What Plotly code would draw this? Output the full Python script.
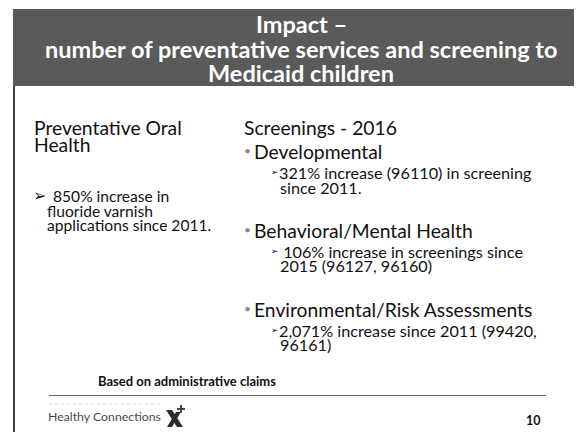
import plotly.graph_objects as go

W, H = 582, 432
OFF = 8  # default page margin of the html body

title_lines = ["Impact –", "number of preventative services and screening to", "Medicaid children"]
left_head = ["Preventative Oral", "Health"]
left_point = ["850% increase in", "fluoride varnish", "applications since 2011."]
right_head = "Screenings - 2016"
categories = ["Developmental", "Behavioral/Mental Health", "Environmental/Risk Assessments"]
details = [
    ["321% increase (96110) in screening", "since 2011."],
    [" 106% increase in screenings since", "2015 (96127, 96160)"],
    ["2,071% increase since 2011 (99420,", "96161)"],
]
footnote = "Based on administrative claims"
brand = "Healthy Connections"
page_no = "10"

FONT = "Lato, 'Open Sans', 'DejaVu Sans', sans-serif"
SYM = "'DejaVu Sans', sans-serif"
TXT = "#111111"

fig = go.Figure()
fig.add_trace(go.Scatter(x=[OFF, W], y=[OFF, H], mode="markers", marker=dict(opacity=0),
                         hoverinfo="skip", showlegend=False))

shapes = []
shapes.append(dict(type="rect", x0=13, x1=582, y0=9, y1=86, fillcolor="#5a5a5a", line=dict(width=0), layer="below"))
shapes.append(dict(type="line", x0=14, x1=14, y0=86, y1=432, line=dict(color="#3c3c3c", width=2)))
shapes.append(dict(type="line", x0=575, x1=575, y0=160, y1=376, line=dict(color="#dddddd", width=1)))
shapes.append(dict(type="line", x0=581, x1=581, y0=376, y1=432, line=dict(color="#555555", width=1.5)))
shapes.append(dict(type="line", x0=49, x1=546, y0=395.5, y1=395.5, line=dict(color="#6a6a6a", width=1.2)))
shapes.append(dict(type="line", x0=49, x1=162, y0=404, y1=404, line=dict(color="#d8d8d8", width=1, dash="dot")))

ann = []
def t(x, y, s, size, color=TXT, bold=False, anchor="left", family=FONT):
    ann.append(dict(x=x, y=y, xref="x", yref="y", text=("<b>%s</b>" % s) if bold else s,
                    showarrow=False, xanchor=anchor, yanchor="middle", borderpad=0, borderwidth=0,
                    font=dict(family=family, size=size, color=color)))

for i, line in enumerate(title_lines):
    t(301, 24 + i * 24.5, line, 23.5, color="white", bold=True, anchor="center")

HEAD = 19.3
SUB = 16.2
t(34, 127, left_head[0], HEAD)
t(34, 144, left_head[1], HEAD)
t(33, 195, "➢", 16, family=SYM)
t(53, 196, left_point[0], 15.6)
t(47, 210.5, left_point[1], 15.6)
t(47, 225, left_point[2], 15.6)

t(244, 127, right_head, HEAD)
cat_y = [151.5, 230, 309]
for cy, cat, det in zip(cat_y, categories, details):
    t(243.5, cy - 1, "•", 12, color="#8a8a8a")
    t(254, cy, cat, HEAD)
    t(270.5, cy + 20.5, "➢", 8.5, family=SYM)
    t(278.5, cy + 21, det[0], SUB)
    t(279.5, cy + 35.5, det[1], SUB)

t(98, 380.5, footnote, 13, bold=True)
t(48, 416, brand, 12.3, color="#4a4a4a")
t(526, 420, page_no, 12.5, bold=True)

# logo mark
shapes.append(dict(type="path", path="M 166 410 L 172 410 L 183 427 L 177 427 Z", fillcolor="#2b2b2b", line=dict(width=0)))
shapes.append(dict(type="path", path="M 176 412 L 181 412 L 172 427 L 167 427 Z", fillcolor="#2b2b2b", line=dict(width=0)))
shapes.append(dict(type="path", path="M 181 405 L 181 413 M 177 409 L 185 409", line=dict(color="#444444", width=2)))

fig.update_layout(
    width=W - OFF, height=H - OFF, margin=dict(l=0, r=0, t=0, b=0),
    paper_bgcolor="white", plot_bgcolor="white",
    xaxis=dict(range=[OFF, W], visible=False, fixedrange=True),
    yaxis=dict(range=[H, OFF], visible=False, fixedrange=True),
    shapes=shapes, annotations=ann, showlegend=False,
)
fig.write_html("out.html")
